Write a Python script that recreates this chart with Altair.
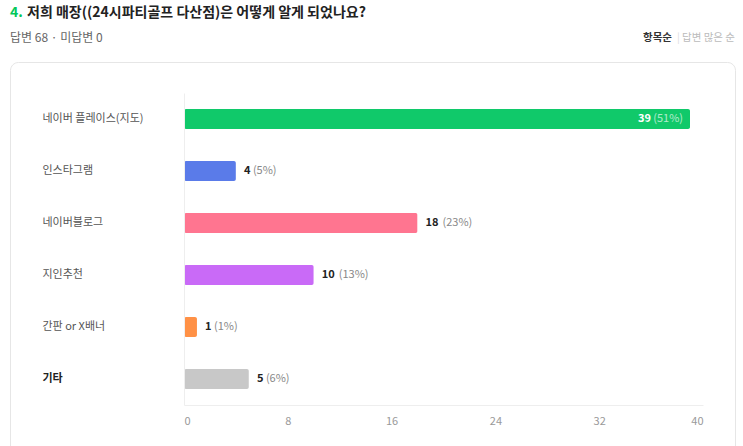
import altair as alt
import pandas as pd

categories = ["네이버 플레이스(지도)", "인스타그램", "네이버블로그", "지인추천", "간판 or X배너", "기타"]
counts = [39, 4, 18, 10, 1, 5]
percents = [51, 5, 23, 13, 1, 6]
bar_colors = ["#10c96a", "#5a7be9", "#ff7590", "#c96af7", "#ff9146", "#c8c8c8"]
x_ticks = [0, 8, 16, 24, 32, 40]

title_num = "4."
title_text = "저희 매장((24시파티골프 다산점)은 어떻게 알게 되었나요?"
sub_text = "답변 68  ·  미답변 0"
sort_a = "항목순"
sort_b = "답변 많은 순"

FONT = "Noto Sans CJK KR"

df = pd.DataFrame({"category": categories, "count": counts, "pct": percents, "color": bar_colors})
df["num_label"] = df["count"].astype(str)
df["pct_label"] = "(" + df["pct"].astype(str) + "%)"

base = alt.Chart(df)
yscale = alt.Scale(paddingInner=0.6154, paddingOuter=0.3077)
xscale = alt.Scale(domain=[0, 40], nice=False)

y_axis = alt.Axis(
    title=None, labelAlign="left", labelPadding=142, ticks=False, tickSize=0,
    domainColor="#eeeeee", labelFont=FONT, labelFontSize=11, zindex=1,
    labelColor=alt.ExprRef(expr="datum.value === '기타' ? '#222222' : '#555555'"),
    labelFontWeight=alt.ExprRef(expr="datum.value === '기타' ? 'bold' : 'normal'"),
)
x_axis = alt.Axis(
    values=x_ticks, title=None, grid=False, ticks=False, domainColor="#eeeeee", zindex=1,
    labelColor="#999999", labelFontSize=11, labelPadding=10, labelFlush=True, labelFont=FONT,
)

card = alt.Chart(pd.DataFrame({"a": [0]})).mark_rect(
    fill="white", stroke="#e6e6e6", strokeWidth=1, cornerRadius=8
).encode(x=alt.value(-173.5), x2=alt.value(551.5), y=alt.value(-30.5), y2=alt.value(480))

xx = alt.X("count:Q", scale=xscale, axis=x_axis)
yy = alt.Y("category:N", sort=categories, scale=yscale, axis=y_axis)

bars = base.mark_bar(cornerRadius=2).encode(
    x=xx, y=yy, color=alt.Color("color:N", scale=None),
)

num_out = base.transform_filter("datum.count < 30").mark_text(
    align="left", baseline="middle", dx=8, fontWeight="bold", color="#222222", fontSize=11, font=FONT
).encode(x=xx, y=yy, text="num_label:N")

pct_out1 = base.transform_filter("datum.count < 10").mark_text(
    align="left", baseline="middle", dx=17, color="#888888", fontSize=11, font=FONT
).encode(x=xx, y=yy, text="pct_label:N")

pct_out2 = base.transform_filter("datum.count >= 10 && datum.count < 30").mark_text(
    align="left", baseline="middle", dx=25, color="#888888", fontSize=11, font=FONT
).encode(x=xx, y=yy, text="pct_label:N")

num_in = base.transform_filter("datum.count >= 30").mark_text(
    align="right", baseline="middle", dx=-39, fontWeight="bold", color="#ffffff", fontSize=11, font=FONT
).encode(x=xx, y=yy, text="num_label:N")

pct_in = base.transform_filter("datum.count >= 30").mark_text(
    align="right", baseline="middle", dx=-7, color="#ffffff", opacity=0.65, fontSize=11, font=FONT
).encode(x=xx, y=yy, text="pct_label:N")

one = pd.DataFrame({"a": [0]})
t_num = alt.Chart(one).mark_text(
    align="left", baseline="middle", fontSize=14, fontWeight="bold", color="#03c75a", font=FONT, text=title_num
).encode(x=alt.value(-174), y=alt.value(-80))
t_text = alt.Chart(one).mark_text(
    align="left", baseline="middle", fontSize=14, fontWeight="bold", color="#222222", font=FONT, text=title_text
).encode(x=alt.value(-157), y=alt.value(-80))
t_sub = alt.Chart(one).mark_text(
    align="left", baseline="middle", fontSize=12, color="#666666", font=FONT, text=sub_text
).encode(x=alt.value(-174), y=alt.value(-55))
t_a = alt.Chart(one).mark_text(
    align="left", baseline="middle", fontSize=10.5, fontWeight="bold", color="#333333", font=FONT, text=sort_a
).encode(x=alt.value(459), y=alt.value(-55))
t_sep = alt.Chart(one).mark_text(
    align="left", baseline="middle", fontSize=10.5, color="#dddddd", font=FONT, text="|"
).encode(x=alt.value(493), y=alt.value(-55))
t_b = alt.Chart(one).mark_text(
    align="right", baseline="middle", fontSize=10.5, color="#bbbbbb", font=FONT, text=sort_b
).encode(x=alt.value(551), y=alt.value(-55))

chart = alt.layer(
    card, bars, num_out, pct_out1, pct_out2, num_in, pct_in,
    t_num, t_text, t_sub, t_a, t_sep, t_b
).properties(
    width=519, height=312,
    padding={"left": 184, "top": 93, "right": 40, "bottom": 41},
    autosize=alt.AutoSizeParams(type="none"),
    background="white",
).configure_view(stroke=None)

chart.save("out.html", embed_options={"renderer": "svg", "actions": False})
